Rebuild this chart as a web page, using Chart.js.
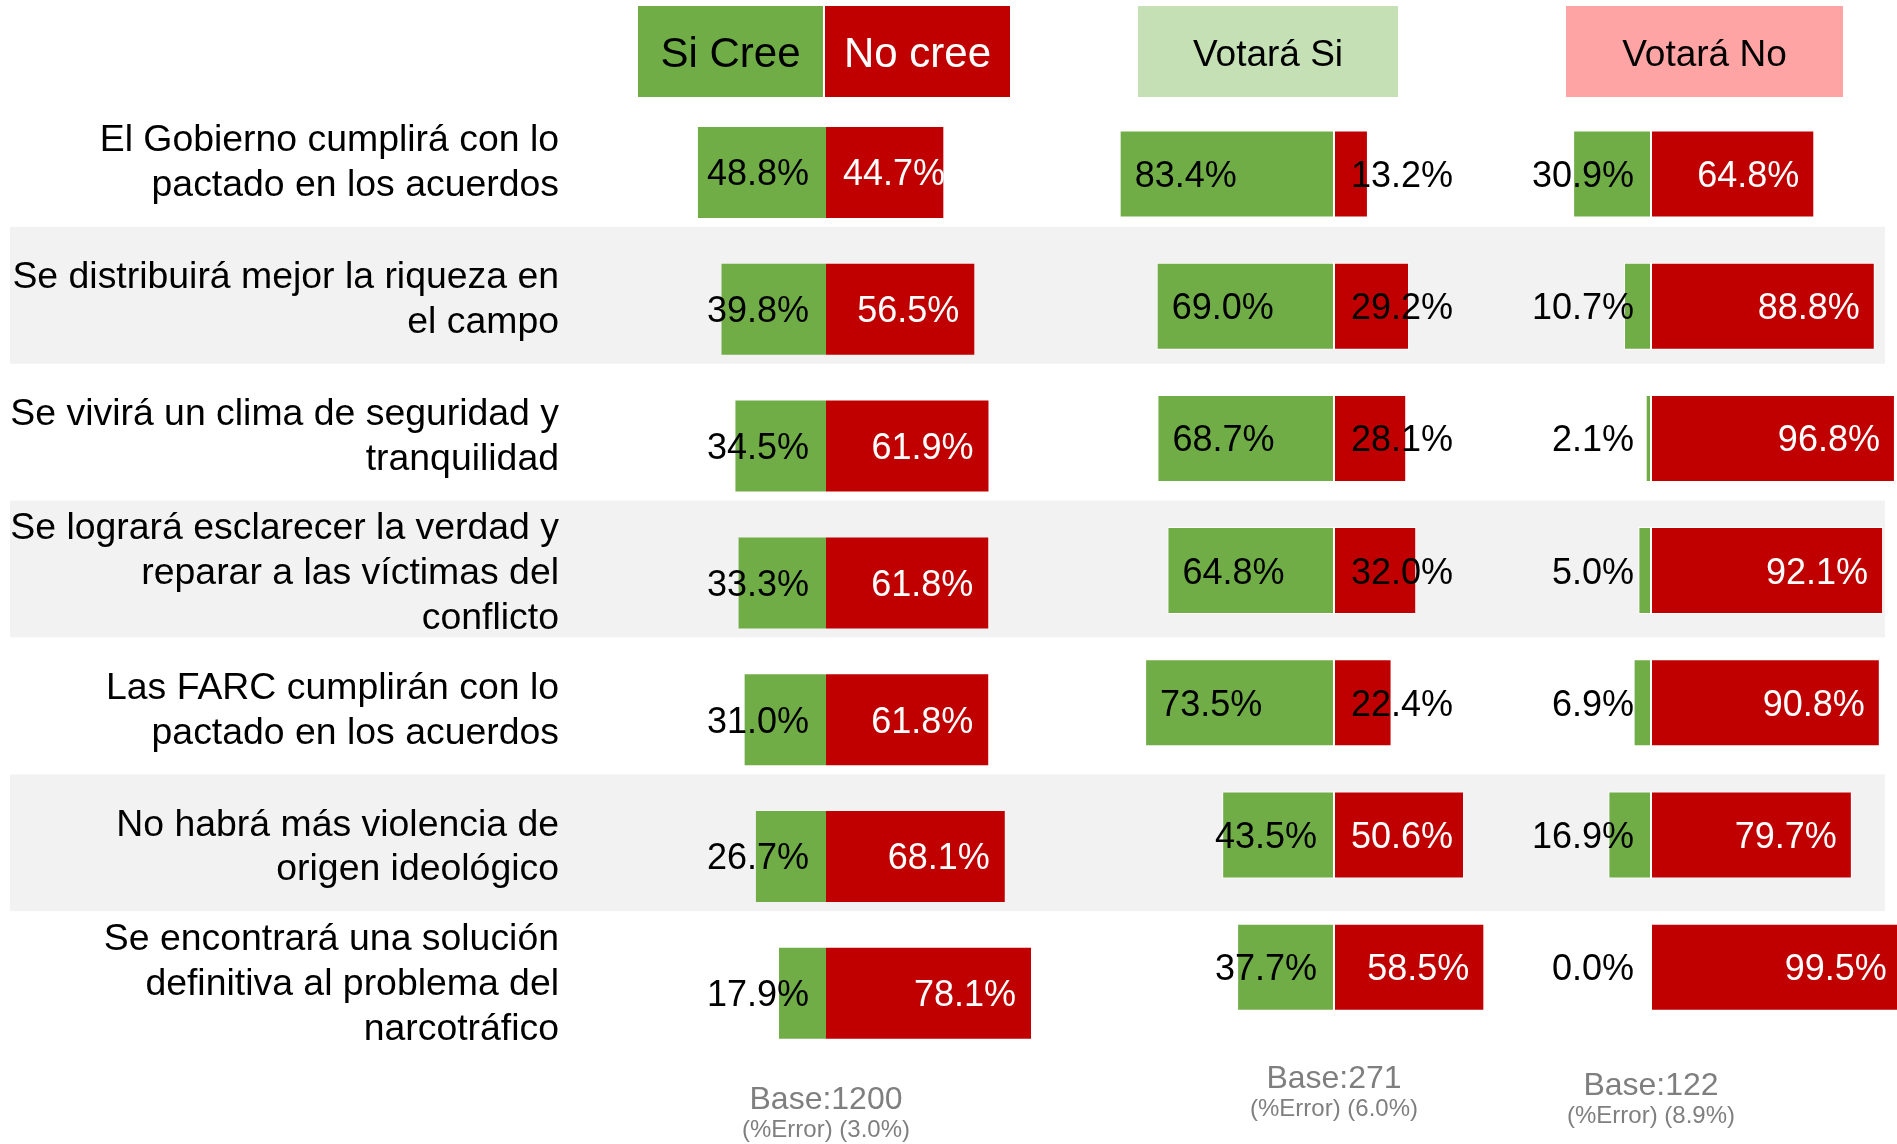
<!DOCTYPE html>
<html>
<head>
<meta charset="utf-8">
<script src="https://cdn.jsdelivr.net/npm/chart.js@4/dist/chart.umd.min.js"></script>
<style>
  html, body { margin: 0; padding: 0; background: #ffffff; overflow: hidden; }
  #wrap { position: relative; width: 1897px; height: 1144px; }
  #wrap canvas { position: absolute; left: 0; top: 0; }
</style>
</head>
<body>
<div id="wrap">
  <canvas id="bg" width="1897" height="1144"></canvas>
  <canvas id="p1" width="1897" height="1144"></canvas>
  <canvas id="p2" width="1897" height="1144"></canvas>
  <canvas id="p3" width="1897" height="1144"></canvas>
</div>
<script>
// ---------------- DATA ----------------
const categories = [
  ["El Gobierno cumplirá con lo", "pactado en los acuerdos"],
  ["Se distribuirá mejor la riqueza en", "el campo"],
  ["Se vivirá un clima de seguridad y", "tranquilidad"],
  ["Se logrará esclarecer la verdad y", "reparar a las víctimas del", "conflicto"],
  ["Las FARC cumplirán con lo", "pactado en los acuerdos"],
  ["No habrá más violencia de", "origen ideológico"],
  ["Se encontrará una solución", "definitiva al problema del", "narcotráfico"]
];
const seriesNames = ["Si Cree", "No cree"];
const totalSi = [48.8, 39.8, 34.5, 33.3, 31.0, 26.7, 17.9];
const totalNo = [44.7, 56.5, 61.9, 61.8, 61.8, 68.1, 78.1];
const votaSiSi = [83.4, 69.0, 68.7, 64.8, 73.5, 43.5, 37.7];
const votaSiNo = [13.2, 29.2, 28.1, 32.0, 22.4, 50.6, 58.5];
const votaNoSi = [30.9, 10.7, 2.1, 5.0, 6.9, 16.9, 0.0];
const votaNoNo = [64.8, 88.8, 96.8, 92.1, 90.8, 79.7, 99.5];
const panelTitles = ["Votará Si", "Votará No"];
const baseLabels = ["Base:1200", "Base:271", "Base:122"];
const errorLabels = ["(%Error) (3.0%)", "(%Error) (6.0%)", "(%Error) (8.9%)"];

// ---------------- STYLE ----------------
const W = 1897, H = 1144;
const FONT = '"Liberation Sans", Arial, Helvetica, sans-serif';
const GREEN = '#70AD47', RED = '#C00000';
const LIGHTGREEN = '#C5E0B4', PINK = '#FFA4A4';
const BAND = '#F2F2F2', GREY = '#7F7F7F';

// ---------------- PLUGINS ----------------
const bandsPlugin = {
  id: 'bands',
  beforeDraw(chart, args, opts) {
    const ys = chart.scales.y, ctx = chart.ctx;
    const n = chart.data.labels.length;
    const step = (ys.bottom - ys.top) / n;
    ctx.save();
    ctx.fillStyle = BAND;
    for (let i = 1; i < n; i += 2) {
      const yc = ys.getPixelForValue(i);
      ctx.fillRect(opts.left, yc - step / 2, chart.chartArea.right - opts.left, step);
    }
    ctx.restore();
  }
};

const valueLabels = {
  id: 'valueLabels',
  afterDatasetsDraw(chart, args, opts) {
    const ctx = chart.ctx, xs = chart.scales.x, ys = chart.scales.y;
    const gds = chart.data.datasets[0], rds = chart.data.datasets[1];
    const c = xs.getPixelForValue(0);
    ctx.save();
    ctx.font = opts.size + 'px ' + FONT;
    ctx.textBaseline = 'middle';
    ctx.textAlign = 'left';
    for (let i = 0; i < gds.data.length; i++) {
      const y = ys.getPixelForValue(i) + opts.dy;
      // green (left side)
      const gv = gds.data[i];
      const gt = Math.abs(gv).toFixed(1) + '%';
      const gw = ctx.measureText(gt).width;
      const gStart = xs.getPixelForValue(gv);
      let gx = gStart + opts.pad;
      if (gx + gw > c - opts.inner) gx = c - opts.inner - gw;
      ctx.fillStyle = '#000000';
      ctx.fillText(gt, gx, y);
      // red (right side)
      const rv = rds.data[i];
      const rt = Math.abs(rv).toFixed(1) + '%';
      const rw = ctx.measureText(rt).width;
      const rEnd = xs.getPixelForValue(rv);
      let rx = rEnd - opts.pad - rw;
      if (rx < c + opts.inner) rx = c + opts.inner;
      ctx.fillStyle = (rw <= rEnd - c) ? '#ffffff' : '#000000';
      ctx.fillText(rt, rx, y);
    }
    ctx.restore();
  }
};

const decorations = {
  id: 'decorations',
  afterDraw(chart, args, opts) {
    const ctx = chart.ctx;
    ctx.save();
    ctx.textAlign = 'center';
    ctx.textBaseline = 'middle';
    (opts.boxes || []).forEach(b => {
      ctx.fillStyle = b.color;
      ctx.fillRect(b.x, b.y, b.w, b.h);
      ctx.fillStyle = b.textColor;
      ctx.font = b.size + 'px ' + FONT;
      ctx.fillText(b.text, b.x + b.w / 2, b.y + b.h / 2 + 4);
    });
    const cx = chart.scales.x.getPixelForValue(0);
    ctx.fillStyle = GREY;
    ctx.font = '32px ' + FONT;
    ctx.fillText(opts.base, cx, opts.baseY + 1);
    ctx.font = '24px ' + FONT;
    ctx.fillText(opts.err, cx, opts.baseY + 31);
    ctx.restore();
  }
};

// ---------------- GEOMETRY HELPERS ----------------
function panelPadding(center, ppu, min, max, top, step, n) {
  return {
    left: center + min * ppu,
    right: W - (center + max * ppu),
    top: top,
    bottom: H - (top + n * step)
  };
}

function panelChart(id, gVals, rVals, names, geo, bordered, deco) {
  const pad = panelPadding(geo.center, geo.ppu, geo.min, geo.max, geo.top, geo.step, categories.length);
  return new Chart(document.getElementById(id), {
    type: 'bar',
    data: {
      labels: categories,
      datasets: [
        { label: names[0], data: gVals.map(v => -v), backgroundColor: GREEN,
          borderColor: '#ffffff', borderWidth: bordered ? 1 : 0, borderSkipped: false,
          barPercentage: 1, categoryPercentage: geo.cat },
        { label: names[1], data: rVals.slice(), backgroundColor: RED,
          borderColor: '#ffffff', borderWidth: bordered ? 1 : 0, borderSkipped: false,
          barPercentage: 1, categoryPercentage: geo.cat }
      ]
    },
    options: {
      indexAxis: 'y',
      responsive: false,
      animation: false,
      devicePixelRatio: 1,
      events: [],
      layout: { padding: pad },
      scales: {
        x: { stacked: true, display: false, min: geo.min, max: geo.max },
        y: { stacked: true, display: false }
      },
      plugins: {
        legend: { display: false },
        tooltip: { enabled: false },
        valueLabels: { size: 36, pad: 15, inner: 17, dy: 3 },
        decorations: deco
      }
    },
    plugins: [valueLabels, decorations]
  });
}

// ---------------- BACKGROUND (category labels + bands) ----------------
new Chart(document.getElementById('bg'), {
  type: 'bar',
  data: { labels: categories, datasets: [] },
  options: {
    indexAxis: 'y',
    responsive: false,
    animation: false,
    devicePixelRatio: 1,
    events: [],
    layout: { padding: { left: 0, right: 12, top: 90, bottom: H - (90 + 7 * 136.86) } },
    scales: {
      x: { display: false, min: 0, max: 1 },
      y: {
        display: true,
        grid: { display: false, drawTicks: false },
        border: { display: false },
        ticks: {
          autoSkip: false,
          padding: 12,
          labelOffset: 5,
          color: '#000000',
          font: { family: FONT, size: 37.4, lineHeight: 1.2 }
        },
        afterFit(scale) { scale.width = 571; }
      }
    },
    plugins: {
      legend: { display: false },
      tooltip: { enabled: false },
      bands: { left: 10 }
    }
  },
  plugins: [bandsPlugin]
});

// ---------------- PANELS ----------------
panelChart('p1', totalSi, totalNo, seriesNames,
  { center: 826, ppu: 2.625, min: -70, max: 90, top: 104.1, step: 136.8, cat: 0.665 }, false,
  { boxes: [
      { x: 638, y: 6, w: 185, h: 91, color: GREEN, text: seriesNames[0], textColor: '#000000', size: 42 },
      { x: 825, y: 6, w: 185, h: 91, color: RED, text: seriesNames[1], textColor: '#ffffff', size: 42 }
    ],
    base: baseLabels[0], err: errorLabels[0], baseY: 1099 });

panelChart('p2', votaSiSi, votaSiNo, seriesNames,
  { center: 1334, ppu: 2.57, min: -90, max: 65, top: 107.9, step: 132.2, cat: 0.658 }, true,
  { boxes: [
      { x: 1138, y: 6, w: 260, h: 91, color: LIGHTGREEN, text: panelTitles[0], textColor: '#000000', size: 37 }
    ],
    base: baseLabels[1], err: errorLabels[1], baseY: 1078 });

panelChart('p3', votaNoSi, votaNoNo, seriesNames,
  { center: 1651, ppu: 2.52, min: -40, max: (W - 1651) / 2.52, top: 107.9, step: 132.2, cat: 0.658 }, true,
  { boxes: [
      { x: 1566, y: 6, w: 277, h: 91, color: PINK, text: panelTitles[1], textColor: '#000000', size: 37 }
    ],
    base: baseLabels[2], err: errorLabels[2], baseY: 1085 });
</script>
</body>
</html>
